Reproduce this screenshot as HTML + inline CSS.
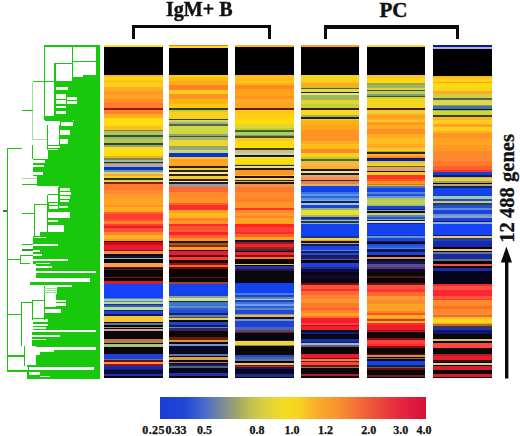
<!DOCTYPE html>
<html><head><meta charset="utf-8">
<style>
html,body{margin:0;padding:0;background:#fff;}
body{width:520px;height:436px;position:relative;overflow:hidden;font-family:"Liberation Serif",serif;}
.col{position:absolute;top:45.0px;height:333.0px;filter:saturate(1.12) brightness(1.03) blur(0.3px);}
.t{position:absolute;font-weight:bold;white-space:nowrap;color:#111;line-height:1;}
.br{position:absolute;background:#0a0a0a;}
.lab{position:absolute;top:424px;font-size:12px;font-weight:bold;line-height:1;color:#111;white-space:nowrap;-webkit-text-stroke:0.25px #111;}
#cbar{position:absolute;left:160px;top:397px;width:266px;height:21.5px;
background:linear-gradient(to right,#1c3cd6 0%,#2046d4 9.4%,#4a6ccc 16.9%,#7a8a98 23.3%,#9aa070 28.2%,#c0c050 33.8%,#dcd040 39.5%,#f4dc20 47%,#f8d020 52.6%,#f8b028 58.3%,#f89030 67.7%,#f05838 79%,#e42840 90.2%,#d8103a 100%);}
</style></head><body>
<svg style="position:absolute;left:0;top:0" width="520" height="436" shape-rendering="crispEdges">
<rect x="44.2" y="45" width="55.50" height="2.20" fill="#17c80c"/>
<rect x="95.7" y="47.2" width="4.00" height="14.00" fill="#17c80c"/>
<rect x="71.7" y="61.2" width="28.00" height="1.10" fill="#17c80c"/>
<rect x="95.7" y="62.3" width="4.00" height="12.20" fill="#17c80c"/>
<rect x="83" y="74.5" width="16.70" height="2.50" fill="#17c80c"/>
<rect x="71.7" y="77" width="28.00" height="4.00" fill="#17c80c"/>
<rect x="54.7" y="81" width="45.00" height="34.50" fill="#17c80c"/>
<rect x="44.2" y="115.5" width="55.50" height="4.00" fill="#17c80c"/>
<rect x="73.8" y="119.5" width="25.90" height="1.90" fill="#17c80c"/>
<rect x="60" y="121.4" width="39.70" height="3.20" fill="#17c80c"/>
<rect x="58.5" y="124.6" width="41.20" height="20.40" fill="#17c80c"/>
<rect x="47.5" y="145" width="52.20" height="13.70" fill="#17c80c"/>
<rect x="33" y="158.7" width="66.70" height="17.30" fill="#17c80c"/>
<rect x="37" y="176" width="62.70" height="10.00" fill="#17c80c"/>
<rect x="58.7" y="186" width="41.00" height="16.00" fill="#17c80c"/>
<rect x="48" y="202" width="51.70" height="10.00" fill="#17c80c"/>
<rect x="70" y="212" width="29.70" height="6.00" fill="#17c80c"/>
<rect x="47.5" y="218" width="52.20" height="7.00" fill="#17c80c"/>
<rect x="64" y="225" width="35.70" height="7.00" fill="#17c80c"/>
<rect x="40" y="232" width="59.70" height="4.00" fill="#17c80c"/>
<rect x="33" y="236" width="66.70" height="28.00" fill="#17c80c"/>
<rect x="36" y="264" width="63.70" height="6.50" fill="#17c80c"/>
<rect x="97" y="270.5" width="2.70" height="2.50" fill="#17c80c"/>
<rect x="36" y="273" width="63.70" height="5.00" fill="#17c80c"/>
<rect x="90" y="278" width="9.70" height="4.00" fill="#17c80c"/>
<rect x="30" y="282" width="69.70" height="2.70" fill="#17c80c"/>
<rect x="71.7" y="284.7" width="28.00" height="2.70" fill="#17c80c"/>
<rect x="57" y="287.4" width="42.70" height="6.10" fill="#17c80c"/>
<rect x="55.6" y="293.5" width="44.10" height="13.50" fill="#17c80c"/>
<rect x="44" y="307" width="55.70" height="2.00" fill="#17c80c"/>
<rect x="61" y="309" width="38.70" height="4.00" fill="#17c80c"/>
<rect x="44" y="313" width="55.70" height="5.00" fill="#17c80c"/>
<rect x="33" y="318" width="66.70" height="12.00" fill="#17c80c"/>
<rect x="97" y="330" width="2.70" height="2.00" fill="#17c80c"/>
<rect x="32" y="332" width="67.70" height="5.00" fill="#17c80c"/>
<rect x="32" y="337" width="67.70" height="9.00" fill="#17c80c"/>
<rect x="36" y="346" width="63.70" height="1.00" fill="#17c80c"/>
<rect x="97" y="347" width="2.70" height="2.50" fill="#17c80c"/>
<rect x="40" y="349.5" width="59.70" height="5.50" fill="#17c80c"/>
<rect x="36" y="355" width="63.70" height="10.00" fill="#17c80c"/>
<rect x="27" y="365" width="72.70" height="2.00" fill="#17c80c"/>
<rect x="94" y="367" width="5.70" height="3.00" fill="#17c80c"/>
<rect x="27" y="370" width="72.70" height="8.50" fill="#17c80c"/>
<rect x="95.7" y="45" width="4.00" height="333.5" fill="#17c80c"/>
<rect x="56" y="86.7" width="12.00" height="3.30" fill="#f4fff0"/>
<rect x="56" y="94" width="10.00" height="4.80" fill="#f4fff0"/>
<rect x="56" y="99.6" width="10.00" height="4.80" fill="#f4fff0"/>
<rect x="67" y="96.5" width="9.50" height="3.00" fill="#f4fff0"/>
<rect x="67" y="100.5" width="9.50" height="3.00" fill="#f4fff0"/>
<rect x="56" y="106" width="10.00" height="2.00" fill="#f4fff0"/>
<rect x="56" y="111" width="10.00" height="3.00" fill="#f4fff0"/>
<rect x="61" y="122" width="12.00" height="3.50" fill="#f4fff0"/>
<rect x="59.5" y="130" width="10.50" height="5.00" fill="#f4fff0"/>
<rect x="59.5" y="139" width="8.50" height="5.00" fill="#f4fff0"/>
<rect x="48" y="145.5" width="11.50" height="2.50" fill="#f4fff0"/>
<rect x="48" y="148.8" width="10.00" height="1.20" fill="#f4fff0"/>
<rect x="33" y="160" width="12.00" height="3.00" fill="#f4fff0"/>
<rect x="33" y="165.2" width="11.00" height="1.80" fill="#f4fff0"/>
<rect x="33" y="172.4" width="10.00" height="2.60" fill="#f4fff0"/>
<rect x="59.5" y="187.8" width="10.50" height="2.70" fill="#f4fff0"/>
<rect x="59.5" y="191.5" width="11.50" height="3.00" fill="#f4fff0"/>
<rect x="59.5" y="195.5" width="10.50" height="3.00" fill="#f4fff0"/>
<rect x="59.5" y="199.5" width="9.50" height="2.50" fill="#f4fff0"/>
<rect x="49" y="202.8" width="8.50" height="2.20" fill="#f4fff0"/>
<rect x="49" y="205.8" width="8.50" height="2.70" fill="#f4fff0"/>
<rect x="58.5" y="205.5" width="9.50" height="2.00" fill="#f4fff0"/>
<rect x="48" y="220" width="10.00" height="2.00" fill="#f4fff0"/>
<rect x="34" y="236.5" width="12.00" height="1.80" fill="#f4fff0"/>
<rect x="33" y="244" width="25.00" height="1.80" fill="#f4fff0"/>
<rect x="33" y="250" width="7.00" height="1.50" fill="#f4fff0"/>
<rect x="33" y="254" width="9.00" height="1.50" fill="#f4fff0"/>
<rect x="33" y="258.5" width="35.00" height="2.00" fill="#f4fff0"/>
<rect x="36" y="262.6" width="14.00" height="1.40" fill="#f4fff0"/>
<rect x="36" y="266" width="16.00" height="2.00" fill="#f4fff0"/>
<rect x="55.6" y="299.5" width="10.10" height="2.50" fill="#f4fff0"/>
<rect x="55.6" y="303" width="10.10" height="3.00" fill="#f4fff0"/>
<rect x="33" y="319" width="15.00" height="3.00" fill="#f4fff0"/>
<rect x="33" y="323.5" width="15.00" height="2.50" fill="#f4fff0"/>
<rect x="33" y="327" width="13.00" height="2.00" fill="#f4fff0"/>
<rect x="32" y="338.5" width="14.00" height="1.50" fill="#f4fff0"/>
<rect x="38" y="349.5" width="16.00" height="2.00" fill="#f4fff0"/>
<rect x="32" y="334.5" width="28.00" height="2.00" fill="#f4fff0"/>
<rect x="28" y="372" width="12.00" height="3.00" fill="#f4fff0"/>
<rect x="40" y="375.5" width="10.00" height="1.00" fill="#f4fff0"/>
<line x1="44.7" y1="45" x2="44.7" y2="120" stroke="#17c80c" stroke-width="1.2"/>
<line x1="72" y1="45" x2="72" y2="81" stroke="#17c80c" stroke-width="1"/>
<line x1="55" y1="63.2" x2="55" y2="116" stroke="#17c80c" stroke-width="1.2"/>
<line x1="55" y1="63.5" x2="72" y2="63.5" stroke="#17c80c" stroke-width="1"/>
<line x1="33" y1="81.8" x2="55" y2="81.8" stroke="#17c80c" stroke-width="1"/>
<line x1="32.5" y1="81.8" x2="32.5" y2="140" stroke="#9fe39a" stroke-width="1"/>
<line x1="22" y1="110.3" x2="32.5" y2="110.3" stroke="#17c80c" stroke-width="1.2"/>
<line x1="32.5" y1="139" x2="47" y2="139" stroke="#9fe39a" stroke-width="1"/>
<line x1="7" y1="148.2" x2="22" y2="148.2" stroke="#17c80c" stroke-width="1.2"/>
<line x1="7.3" y1="148" x2="7.3" y2="371.5" stroke="#17c80c" stroke-width="1.3"/>
<line x1="47.8" y1="124.6" x2="47.8" y2="150" stroke="#17c80c" stroke-width="1"/>
<line x1="44.5" y1="120.6" x2="73" y2="120.6" stroke="#17c80c" stroke-width="1"/>
<line x1="32.5" y1="145" x2="32.5" y2="159" stroke="#17c80c" stroke-width="1"/>
<line x1="22" y1="178.4" x2="37" y2="178.4" stroke="#9fe39a" stroke-width="1"/>
<line x1="22" y1="184.6" x2="37" y2="184.6" stroke="#17c80c" stroke-width="1.2"/>
<line x1="47.5" y1="194.7" x2="47.5" y2="234" stroke="#17c80c" stroke-width="1"/>
<line x1="47.5" y1="194.7" x2="58.7" y2="194.7" stroke="#17c80c" stroke-width="1"/>
<line x1="58.7" y1="187" x2="58.7" y2="206.6" stroke="#17c80c" stroke-width="1"/>
<line x1="58.7" y1="187" x2="70" y2="187" stroke="#17c80c" stroke-width="1"/>
<line x1="34.7" y1="204" x2="47.5" y2="204" stroke="#17c80c" stroke-width="1"/>
<line x1="34.7" y1="204" x2="34.7" y2="236" stroke="#17c80c" stroke-width="1"/>
<line x1="22" y1="213.5" x2="34.7" y2="213.5" stroke="#17c80c" stroke-width="1.2"/>
<line x1="3" y1="211" x2="7.3" y2="211" stroke="#3a7a3a" stroke-width="1.2"/>
<line x1="22" y1="244" x2="33" y2="244" stroke="#17c80c" stroke-width="1"/>
<line x1="22" y1="250" x2="33" y2="250" stroke="#2a9a2a" stroke-width="1.2"/>
<line x1="20" y1="255" x2="33" y2="255" stroke="#17c80c" stroke-width="1"/>
<line x1="8" y1="259" x2="20" y2="259" stroke="#17c80c" stroke-width="1"/>
<line x1="20" y1="255" x2="20" y2="264" stroke="#17c80c" stroke-width="1"/>
<line x1="20" y1="263" x2="30" y2="263" stroke="#17c80c" stroke-width="1"/>
<line x1="21" y1="302" x2="21" y2="346" stroke="#17c80c" stroke-width="1"/>
<line x1="21" y1="302" x2="32" y2="302" stroke="#17c80c" stroke-width="1"/>
<line x1="32" y1="300" x2="32" y2="320" stroke="#17c80c" stroke-width="1"/>
<line x1="32" y1="300" x2="44" y2="300" stroke="#17c80c" stroke-width="1"/>
<line x1="44" y1="286" x2="44" y2="320" stroke="#17c80c" stroke-width="1"/>
<line x1="44" y1="288.2" x2="57" y2="288.2" stroke="#9fe39a" stroke-width="1"/>
<line x1="44" y1="290.8" x2="57" y2="290.8" stroke="#9fe39a" stroke-width="1"/>
<line x1="44" y1="292.8" x2="57" y2="292.8" stroke="#9fe39a" stroke-width="1"/>
<line x1="8" y1="314" x2="21" y2="314" stroke="#17c80c" stroke-width="1"/>
<line x1="7.3" y1="356" x2="24" y2="356" stroke="#17c80c" stroke-width="1.2"/>
<line x1="24" y1="346" x2="24" y2="366" stroke="#17c80c" stroke-width="1"/>
<line x1="7.3" y1="371" x2="28" y2="371" stroke="#17c80c" stroke-width="1.2"/>
<line x1="28" y1="366" x2="28" y2="378" stroke="#17c80c" stroke-width="1"/>
</svg>
<div class="col" style="left:104px;width:59px;background:linear-gradient(to bottom,#eed83a 0.0px 2.4px,#000000 2.4px 30.4px,#f0b830 30.4px 31.7px,#f2d022 31.7px 35.1px,#f0c028 35.1px 37.8px,#f2c830 37.8px 41.8px,#f2a830 41.8px 45.8px,#f29830 45.8px 49.9px,#f2a030 49.9px 53.9px,#f28c30 53.9px 58.0px,#f07838 58.0px 62.7px,#802010 62.7px 65.4px,#f08030 65.4px 68.7px,#f2a830 68.7px 72.8px,#f4d622 72.8px 80.7px,#f0b830 80.7px 84.8px,#808050 84.8px 86.1px,#a8c060 86.1px 90.2px,#305040 90.2px 92.2px,#98b070 92.2px 94.2px,#b0c050 94.2px 98.2px,#304030 98.2px 100.3px,#90a080 100.3px 102.3px,#f4d622 102.3px 111.0px,#e0b030 111.0px 113.0px,#808050 113.0px 115.1px,#a0b0a0 115.1px 117.1px,#203020 117.1px 118.4px,#909080 118.4px 119.3px,#c0a090 119.3px 120.7px,#90a8b0 120.7px 122.0px,#1030b0 122.0px 125.4px,#7090a0 125.4px 126.7px,#c8d080 126.7px 129.4px,#f0a040 129.4px 130.8px,#f0c830 130.8px 132.8px,#203020 132.8px 134.8px,#d0d070 134.8px 137.5px,#802010 137.5px 138.9px,#f07838 138.9px 144.9px,#f08838 144.9px 149.0px,#f09838 149.0px 153.0px,#f0a030 153.0px 159.7px,#f09030 159.7px 162.0px,#f0a830 162.0px 166.7px,#f06030 166.7px 168.7px,#e84038 168.7px 174.1px,#f05030 174.1px 176.2px,#f08030 176.2px 178.8px,#e84030 178.8px 180.9px,#d02028 180.9px 182.9px,#f05038 182.9px 186.9px,#f08030 186.9px 189.6px,#f8b030 189.6px 194.3px,#f09030 194.3px 195.7px,#300808 195.7px 197.0px,#b01020 197.0px 200.4px,#d02030 200.4px 204.7px,#602010 204.7px 206.1px,#f08840 206.1px 208.7px,#0c0606 208.7px 210.8px,#101830 210.8px 212.8px,#90b0a0 212.8px 214.1px,#0c0606 214.1px 218.2px,#e8a050 218.2px 221.5px,#601010 221.5px 222.9px,#0c0606 222.9px 224.2px,#502040 224.2px 225.3px,#0c0606 225.3px 231.6px,#701818 231.6px 233.0px,#0c0606 233.0px 236.3px,#c02030 236.3px 238.6px,#1840e0 238.6px 252.6px,#5a7ab8 252.6px 254.3px,#a8c898 254.3px 256.2px,#6080b0 256.2px 257.3px,#b0d0a0 257.3px 258.6px,#203080 258.6px 260.0px,#3058b8 260.0px 261.6px,#b8d890 261.6px 265.1px,#102060 265.1px 266.0px,#2040c0 266.0px 269.4px,#101850 269.4px 271.2px,#e8c040 271.2px 276.7px,#0c0606 276.7px 278.2px,#5870a0 278.2px 280.1px,#0c0606 280.1px 281.6px,#a09070 281.6px 283.1px,#0c0606 283.1px 284.2px,#c0a0a0 284.2px 285.6px,#0c0606 285.6px 293.8px,#b07848 293.8px 298.3px,#0c0606 298.3px 299.5px,#98c090 299.5px 301.6px,#0c0606 301.6px 308.7px,#2040c8 308.7px 314.0px,#707070 314.0px 315.0px,#601010 315.0px 316.5px,#f09050 316.5px 318.9px,#801818 318.9px 320.7px,#1828a0 320.7px 323.7px,#141c50 323.7px 325.4px,#0c0c30 325.4px 328.9px,#2030a0 328.9px 331.4px,#0c0606 331.4px 333.0px)"></div><div class="col" style="left:169px;width:59px;background:linear-gradient(to bottom,#e07050 0.0px 1.2px,#f4d622 1.2px 3.0px,#000000 3.0px 30.4px,#f2c820 30.4px 32.4px,#f2b820 32.4px 35.7px,#f2a828 35.7px 40.5px,#f28030 40.5px 45.2px,#eec830 45.2px 49.2px,#f29030 49.2px 53.9px,#f2b020 53.9px 59.3px,#f2c020 59.3px 63.3px,#304010 63.3px 65.4px,#c8c840 65.4px 67.4px,#f0c830 67.4px 72.8px,#e8c830 72.8px 74.0px,#304020 74.0px 75.4px,#c8d070 75.4px 77.4px,#a0b070 77.4px 79.4px,#506050 79.4px 80.7px,#c8d050 80.7px 88.8px,#90a070 88.8px 90.8px,#405040 90.8px 92.2px,#a0b070 92.2px 94.9px,#e0d040 94.9px 100.9px,#a0a040 100.9px 102.3px,#90a080 102.3px 105.0px,#c0d080 105.0px 108.3px,#1030c0 108.3px 112.4px,#f0c030 112.4px 113.7px,#f0a030 113.7px 120.7px,#302010 120.7px 122.7px,#e8c840 122.7px 125.4px,#302010 125.4px 127.4px,#f0e0a0 127.4px 129.4px,#302010 129.4px 130.8px,#e8c840 130.8px 134.2px,#302010 134.2px 136.2px,#f0d8b0 136.2px 137.5px,#102030 137.5px 139.5px,#a09090 139.5px 141.6px,#f06838 141.6px 146.9px,#f08838 146.9px 153.0px,#f09030 153.0px 158.4px,#f06030 158.4px 160.4px,#e83030 160.4px 164.7px,#f0a030 164.7px 168.1px,#f2b030 168.1px 173.5px,#f08030 173.5px 176.2px,#f09830 176.2px 178.8px,#e03030 178.8px 181.5px,#f05038 181.5px 184.9px,#f06030 184.9px 186.9px,#e02830 186.9px 190.3px,#f06038 190.3px 193.0px,#f09030 193.0px 196.3px,#301008 196.3px 197.7px,#806030 197.7px 200.0px,#803010 200.0px 201.6px,#f09040 201.6px 204.7px,#200808 204.7px 206.5px,#d02038 206.5px 210.1px,#500808 210.1px 212.1px,#e04038 212.1px 214.8px,#200808 214.8px 217.5px,#801818 217.5px 219.5px,#f06030 219.5px 222.2px,#601010 222.2px 224.0px,#0a0505 224.0px 231.6px,#501818 231.6px 233.0px,#0c0606 233.0px 237.0px,#a04030 237.0px 239.1px,#1840d8 239.1px 249.9px,#2040a0 249.9px 251.2px,#88a090 251.2px 253.3px,#c8d8a0 253.3px 255.7px,#103020 255.7px 257.0px,#4070c0 257.0px 260.7px,#6088b0 260.7px 263.4px,#3058c0 263.4px 265.4px,#2848c8 265.4px 268.1px,#102070 268.1px 270.1px,#6080a0 270.1px 271.8px,#505030 271.8px 273.0px,#d8c070 273.0px 275.2px,#0c0606 275.2px 276.7px,#2040c0 276.7px 280.4px,#141c50 280.4px 281.9px,#7080a0 281.9px 283.4px,#302860 283.4px 285.6px,#0c0606 285.6px 287.1px,#100505 287.1px 292.4px,#602010 292.4px 294.6px,#d09040 294.6px 296.8px,#0c0606 296.8px 299.1px,#7090d0 299.1px 301.3px,#080820 301.3px 309.5px,#6070a0 309.5px 311.0px,#0c0606 311.0px 312.5px,#d0a050 312.5px 314.7px,#0c0606 314.7px 316.5px,#b08070 316.5px 318.0px,#0c0606 318.0px 319.2px,#141c50 319.2px 321.4px,#506070 321.4px 322.9px,#080818 322.9px 328.1px,#2030a0 328.1px 331.1px,#0c0606 331.1px 333.0px)"></div><div class="col" style="left:235px;width:59px;background:linear-gradient(to bottom,#f2b02e 0.0px 2.4px,#000000 2.4px 30.4px,#f2b828 30.4px 35.7px,#eec030 35.7px 37.8px,#f2b020 37.8px 40.5px,#f28830 40.5px 44.5px,#f2a028 44.5px 50.6px,#f29030 50.6px 53.9px,#f2a830 53.9px 58.0px,#f2a030 58.0px 63.3px,#502008 63.3px 65.4px,#f2c020 65.4px 68.7px,#f2c828 68.7px 74.0px,#f2d61e 74.0px 79.4px,#d8d040 79.4px 82.8px,#b8c840 82.8px 85.5px,#406030 85.5px 86.8px,#a8c860 86.8px 90.2px,#809070 90.2px 91.5px,#405030 91.5px 92.9px,#f0c040 92.9px 95.6px,#f2d61e 95.6px 103.2px,#404020 103.2px 104.6px,#d0b880 104.6px 108.5px,#c0d0b0 108.5px 109.9px,#102018 109.9px 111.8px,#f0e080 111.8px 112.8px,#f2d61e 112.8px 118.6px,#c8c030 118.6px 120.0px,#303010 120.0px 121.4px,#e0d0a0 121.4px 123.4px,#201810 123.4px 124.7px,#f09030 124.7px 130.1px,#e0c040 130.1px 131.5px,#201008 131.5px 132.8px,#f0d060 132.8px 134.8px,#302010 134.8px 136.2px,#d0b070 136.2px 137.5px,#201010 137.5px 138.9px,#e09050 138.9px 141.6px,#f07838 141.6px 146.9px,#f08838 146.9px 153.0px,#f08030 153.0px 157.0px,#f09038 157.0px 163.1px,#e83828 163.1px 165.1px,#f08838 165.1px 167.8px,#f09838 167.8px 171.2px,#f08030 171.2px 173.2px,#f8a030 173.2px 178.6px,#e82828 178.6px 181.9px,#f04038 181.9px 187.3px,#e03028 187.3px 189.3px,#f06030 189.3px 192.0px,#f0a030 192.0px 194.7px,#101040 194.7px 196.7px,#802020 196.7px 198.7px,#d82830 198.7px 202.4px,#a02020 202.4px 203.7px,#403030 203.7px 205.8px,#0c0606 205.8px 207.1px,#d82838 207.1px 209.8px,#801010 209.8px 212.5px,#e07040 212.5px 213.8px,#0c0606 213.8px 218.6px,#e0c060 218.6px 220.3px,#0c0606 220.3px 221.2px,#2030a0 221.2px 223.9px,#301030 223.9px 226.0px,#080810 226.0px 238.1px,#1840d8 238.1px 248.1px,#4878d8 248.1px 250.1px,#2040c0 250.1px 252.1px,#6080a8 252.1px 253.5px,#a8d0b0 253.5px 255.1px,#2040a0 255.1px 256.8px,#4070d0 256.8px 258.8px,#7098e0 258.8px 260.9px,#3058c8 260.9px 262.9px,#6080c0 262.9px 264.9px,#2048c0 264.9px 268.9px,#8090a0 268.9px 270.3px,#e0b060 270.3px 272.3px,#101030 272.3px 274.3px,#7090c0 274.3px 276.3px,#2040c0 276.3px 282.0px,#5060a0 282.0px 284.7px,#604060 284.7px 286.7px,#502020 286.7px 288.1px,#05050f 288.1px 294.8px,#101850 294.8px 296.2px,#e8d040 296.2px 300.2px,#808060 300.2px 301.5px,#0c0606 301.5px 309.6px,#2848b0 309.6px 312.3px,#4060a0 312.3px 314.3px,#6070a0 314.3px 316.3px,#0c0606 316.3px 317.7px,#e0c070 317.7px 319.7px,#601010 319.7px 321.0px,#c02020 321.0px 322.4px,#101850 322.4px 324.4px,#080820 324.4px 329.1px,#1a2a80 329.1px 332.5px,#0c0606 332.5px 333.0px)"></div><div class="col" style="left:301px;width:58px;background:linear-gradient(to bottom,#f29c34 0.0px 2.4px,#000000 2.4px 30.4px,#e8d030 30.4px 35.7px,#f0c030 35.7px 37.8px,#f2a828 37.8px 41.8px,#b0c040 41.8px 43.2px,#406050 43.2px 44.5px,#e0d050 44.5px 46.9px,#102030 46.9px 48.5px,#e0e070 48.5px 49.9px,#a0b060 49.9px 54.6px,#d8d040 54.6px 59.3px,#c0c840 59.3px 63.3px,#302010 63.3px 65.4px,#f2d028 65.4px 70.1px,#a0b060 70.1px 72.1px,#102030 72.1px 74.1px,#f0c030 74.1px 75.4px,#f2b020 75.4px 80.1px,#f2a028 80.1px 85.5px,#f29030 85.5px 95.6px,#f2a830 95.6px 98.9px,#f2b828 98.9px 104.3px,#f28830 104.3px 108.3px,#f0c830 108.3px 112.4px,#c0c030 112.4px 114.4px,#506030 114.4px 115.7px,#e0b850 115.7px 121.1px,#f0a830 121.1px 124.4px,#201008 124.4px 125.8px,#e0e080 125.8px 127.8px,#101840 127.8px 130.5px,#e0a060 130.5px 132.5px,#e09060 132.5px 135.2px,#502010 135.2px 136.5px,#d08060 136.5px 139.2px,#d0b060 139.2px 140.6px,#1840d0 140.6px 146.6px,#4070d0 146.6px 148.6px,#6090d8 148.6px 150.7px,#3060c8 150.7px 152.7px,#6090d0 152.7px 154.7px,#80a0d0 154.7px 156.3px,#102060 156.3px 157.7px,#a0c0d0 157.7px 159.7px,#2040c0 159.7px 163.1px,#90a880 163.1px 165.1px,#e0d840 165.1px 170.5px,#a0b070 170.5px 172.5px,#203070 172.5px 173.8px,#3050b0 173.8px 175.2px,#a0c0b0 175.2px 176.5px,#203060 176.5px 177.9px,#90b0a0 177.9px 179.2px,#1840d8 179.2px 190.7px,#203080 190.7px 192.7px,#e0d050 192.7px 194.7px,#e0a040 194.7px 196.5px,#201008 196.5px 197.8px,#a0a090 197.8px 199.4px,#141c50 199.4px 200.8px,#2040d0 200.8px 205.1px,#6080b0 205.1px 206.4px,#141c50 206.4px 207.8px,#2848c0 207.8px 210.5px,#141c50 210.5px 212.5px,#202060 212.5px 214.5px,#5050a0 214.5px 215.2px,#0c0606 215.2px 217.9px,#2040d0 217.9px 221.9px,#302870 221.9px 223.9px,#0a1040 223.9px 226.6px,#0c0606 226.6px 230.0px,#0a0a30 230.0px 234.0px,#0c0606 234.0px 238.4px,#6a1412 238.4px 239.7px,#f05040 239.7px 243.7px,#e03030 243.7px 245.8px,#f06838 245.8px 249.8px,#f08038 249.8px 253.8px,#f09038 253.8px 257.9px,#f07838 257.9px 263.3px,#f06030 263.3px 265.3px,#f08038 265.3px 268.0px,#f8a030 268.0px 271.3px,#f07038 271.3px 273.4px,#e02030 273.4px 276.7px,#e82030 276.7px 278.4px,#f04040 278.4px 280.1px,#a01818 280.1px 281.4px,#d82038 281.4px 285.0px,#0c0606 285.0px 286.7px,#101a80 286.7px 289.4px,#080810 289.4px 294.3px,#1830a0 294.3px 297.0px,#141c50 297.0px 298.4px,#a0b0c8 298.4px 299.8px,#605878 299.8px 302.5px,#0c0606 302.5px 308.7px,#d02030 308.7px 312.8px,#6a1412 312.8px 314.2px,#e08040 314.2px 315.6px,#6a1412 315.6px 317.0px,#f04848 317.0px 320.4px,#6a1412 320.4px 321.8px,#708060 321.8px 323.4px,#0c0606 323.4px 329.3px,#a02030 329.3px 331.4px,#0c0606 331.4px 333.0px)"></div><div class="col" style="left:367px;width:58px;background:linear-gradient(to bottom,#e8d050 0.0px 2.4px,#000000 2.4px 30.4px,#f2c030 30.4px 33.1px,#f2d028 33.1px 38.4px,#a0a040 38.4px 39.8px,#98b070 39.8px 43.2px,#e0c840 43.2px 45.2px,#405030 45.2px 46.5px,#b0c860 46.5px 49.2px,#809870 49.2px 50.6px,#405030 50.6px 51.9px,#c8d040 51.9px 53.9px,#eacf30 53.9px 63.3px,#402008 63.3px 65.4px,#e8c840 65.4px 68.7px,#f2a830 68.7px 71.4px,#f29830 71.4px 73.4px,#f2a830 73.4px 74.7px,#f2c030 74.7px 76.7px,#f29830 76.7px 80.1px,#f2a830 80.1px 84.1px,#f28c30 84.1px 89.5px,#f2a830 89.5px 93.5px,#f2b830 93.5px 98.9px,#f2a830 98.9px 103.0px,#f2c030 103.0px 105.6px,#a0a040 105.6px 107.3px,#302010 107.3px 108.6px,#f2b030 108.6px 111.0px,#f28830 111.0px 113.0px,#101840 113.0px 114.0px,#101890 114.0px 116.3px,#c0c070 116.3px 118.4px,#f0c830 118.4px 121.1px,#606020 121.1px 122.4px,#d0a070 122.4px 125.8px,#201008 125.8px 127.1px,#f0c040 127.1px 129.8px,#e83828 129.8px 133.8px,#f05830 133.8px 136.5px,#f09030 136.5px 138.6px,#c07020 138.6px 139.9px,#f0b030 139.9px 141.2px,#5070b0 141.2px 143.3px,#1840d0 143.3px 147.3px,#5080d0 147.3px 149.3px,#2850c0 149.3px 151.3px,#7090c0 151.3px 153.4px,#a8c070 153.4px 155.4px,#b8c860 155.4px 159.7px,#90b080 159.7px 161.1px,#2040c0 161.1px 163.7px,#102060 163.7px 165.1px,#80a0a0 165.1px 166.4px,#101010 166.4px 167.8px,#c0d070 167.8px 170.5px,#6080b0 170.5px 171.8px,#2850c0 171.8px 173.8px,#80a0c0 173.8px 175.2px,#101020 175.2px 176.5px,#e0e0b0 176.5px 177.9px,#1020a0 177.9px 179.2px,#1840d8 179.2px 190.0px,#2030a0 190.0px 191.3px,#6090d0 191.3px 192.7px,#2040c0 192.7px 196.0px,#102060 196.0px 197.4px,#080818 197.4px 199.4px,#2848c8 199.4px 201.4px,#3060d0 201.4px 202.8px,#5080e0 202.8px 204.4px,#101850 204.4px 207.1px,#2040c0 207.1px 210.5px,#0c0606 210.5px 212.5px,#d09050 212.5px 214.5px,#0c0606 214.5px 215.9px,#101850 215.9px 219.2px,#505090 219.2px 221.9px,#603050 221.9px 223.9px,#0a0a30 223.9px 227.3px,#0c0606 227.3px 231.3px,#402020 231.3px 233.4px,#0c0606 233.4px 238.1px,#601818 238.1px 240.1px,#f05040 240.1px 244.0px,#e83838 244.0px 246.7px,#f06838 246.7px 250.8px,#f89838 250.8px 255.5px,#f08838 255.5px 258.8px,#f8a030 258.8px 265.6px,#f08030 265.6px 267.6px,#e85030 267.6px 269.6px,#f8b030 269.6px 273.0px,#f09030 273.0px 274.3px,#c04010 274.3px 275.7px,#f8a838 275.7px 278.4px,#e03030 278.4px 280.4px,#d82030 280.4px 284.7px,#801818 284.7px 286.1px,#c02020 286.1px 287.4px,#0c0606 287.4px 293.5px,#801010 293.5px 295.5px,#f04040 295.5px 298.8px,#e03030 298.8px 301.5px,#801010 301.5px 302.9px,#0c0606 302.9px 308.9px,#601010 308.9px 310.3px,#d08050 310.3px 311.6px,#0c0606 311.6px 313.0px,#707030 313.0px 314.3px,#0a0a30 314.3px 316.3px,#2040d0 316.3px 320.4px,#141c50 320.4px 321.7px,#606040 321.7px 322.8px,#601010 322.8px 325.1px,#0c0606 325.1px 330.5px,#602020 330.5px 331.8px,#0c0606 331.8px 333.0px)"></div><div class="col" style="left:433px;width:59px;background:linear-gradient(to bottom,#101880 0.0px 2.4px,#a0b0d0 2.4px 3.7px,#000000 3.7px 30.7px,#f2b030 30.7px 33.4px,#f2c828 33.4px 36.7px,#f2a030 36.7px 38.1px,#f2d61e 38.1px 42.0px,#e8d030 42.0px 46.1px,#f2a830 46.1px 49.4px,#c8c850 49.4px 52.8px,#506050 52.8px 54.8px,#d0d060 54.8px 58.2px,#e0d040 58.2px 60.2px,#809080 60.2px 61.5px,#4070a0 61.5px 63.6px,#101010 63.6px 64.9px,#a0b070 64.9px 66.2px,#c8d040 66.2px 70.3px,#304020 70.3px 72.3px,#f2b030 72.3px 75.0px,#f2c830 75.0px 79.0px,#f2a030 79.0px 81.7px,#f2c830 81.7px 85.8px,#f2b030 85.8px 87.7px,#f29030 87.7px 93.1px,#f2a030 93.1px 99.8px,#f29830 99.8px 106.5px,#f28838 106.5px 116.0px,#f27838 116.0px 121.3px,#f06030 121.3px 124.7px,#e83830 124.7px 127.4px,#1840c0 127.4px 130.1px,#101860 130.1px 132.0px,#c0b060 132.0px 133.4px,#e0c850 133.4px 136.1px,#a0a060 136.1px 138.1px,#0c0606 138.1px 139.4px,#b0a080 139.4px 141.4px,#141c50 141.4px 142.8px,#1840d8 142.8px 150.2px,#2040a0 150.2px 151.5px,#a0c0a0 151.5px 153.6px,#2848b8 153.6px 156.2px,#c0c0a0 156.2px 158.3px,#304030 158.3px 160.3px,#2850c0 160.3px 163.0px,#6088d0 163.0px 165.0px,#2040c8 165.0px 169.0px,#7090c0 169.0px 171.3px,#80a0c0 171.3px 172.7px,#2040d0 172.7px 176.1px,#141c50 176.1px 177.4px,#90a8c0 177.4px 179.2px,#1840e0 179.2px 190.2px,#141c50 190.2px 191.5px,#e0c080 191.5px 193.2px,#304030 193.2px 194.2px,#2040b0 194.2px 195.6px,#1828a0 195.6px 202.3px,#0c0606 202.3px 203.6px,#e0c070 203.6px 205.7px,#0c0606 205.7px 207.0px,#6070a0 207.0px 209.0px,#1a2890 209.0px 214.4px,#607070 214.4px 215.8px,#0c0606 215.8px 218.5px,#e85040 218.5px 221.2px,#0c0606 221.2px 222.6px,#1a2a90 222.6px 226.0px,#050518 226.0px 239.4px,#d03030 239.4px 241.4px,#f05040 241.4px 244.7px,#e82838 244.7px 250.8px,#f05838 250.8px 253.5px,#e04030 253.5px 255.5px,#f08838 255.5px 261.5px,#f07030 261.5px 263.6px,#f08838 263.6px 270.3px,#d07040 270.3px 272.3px,#f0b030 272.3px 274.3px,#f0d030 274.3px 277.7px,#f0a030 277.7px 279.0px,#b06830 279.0px 281.0px,#404030 281.0px 282.0px,#303070 282.0px 283.4px,#2830a0 283.4px 285.4px,#101860 285.4px 288.7px,#0c0606 288.7px 294.1px,#c0c060 294.1px 296.2px,#0c0606 296.2px 298.2px,#e84848 298.2px 302.9px,#0c0606 302.9px 308.9px,#a02020 308.9px 311.0px,#d02030 311.0px 315.0px,#401010 315.0px 317.0px,#0c0606 317.0px 318.4px,#d0d090 318.4px 319.7px,#0c0606 319.7px 321.0px,#c02030 321.0px 325.1px,#0c0606 325.1px 329.1px,#c02030 329.1px 332.5px,#0c0606 332.5px 333.0px)"></div>
<div class="t" style="left:166.3px;top:-1.2px;font-size:21px;transform-origin:0 0;transform:scaleX(0.955);-webkit-text-stroke:0.45px #111;">IgM+ B</div>
<div class="t" style="left:379.5px;top:-0.2px;font-size:21px;-webkit-text-stroke:0.45px #111;">PC</div>
<div class="br" style="left:131.5px;top:24.5px;width:139px;height:3.5px;"></div>
<div class="br" style="left:131.5px;top:24.5px;width:3.3px;height:14px;"></div>
<div class="br" style="left:267.5px;top:24.5px;width:3.3px;height:14px;"></div>
<div class="br" style="left:324px;top:25px;width:135px;height:3.5px;"></div>
<div class="br" style="left:324px;top:25px;width:3.3px;height:13.5px;"></div>
<div class="br" style="left:455.5px;top:25px;width:3.3px;height:13.5px;"></div>
<div id="cbar"></div>
<div class="lab" style="left:142.3px;letter-spacing:0.4px;">0.25</div>
<div class="lab" style="left:165.5px;">0.33</div>
<div class="lab" style="left:197px;">0.5</div>
<div class="lab" style="left:249.4px;">0.8</div>
<div class="lab" style="left:284.4px;">1.0</div>
<div class="lab" style="left:318px;">1.2</div>
<div class="lab" style="left:361.3px;">2.0</div>
<div class="lab" style="left:393.2px;">3.0</div>
<div class="lab" style="left:416.5px;">4.0</div>
<svg style="position:absolute;left:0;top:0" width="520" height="436">
<polygon points="500.8,262.5 506.4,246.5 512,262.5" fill="#0a0a0a"/>
<rect x="505" y="258" width="3.4" height="120.5" fill="#0a0a0a"/>
</svg>
<svg style="position:absolute;left:0;top:0" width="520" height="436"><text transform="translate(514,242.8) rotate(-90)" font-family="Liberation Serif" font-weight="bold" font-size="20.6" fill="#111" stroke="#111" stroke-width="0.3">12&#8201;488 genes</text></svg>
</body></html>
